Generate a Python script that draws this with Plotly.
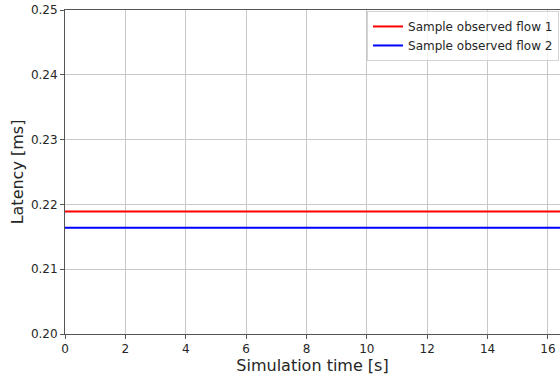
import plotly.graph_objects as go

time_s = [0, 1, 2, 3, 4, 5, 6, 7, 8, 9, 10, 11, 12, 13, 14, 15, 16, 17]
flow1_ms = [0.2189] * len(time_s)
flow2_ms = [0.2164] * len(time_s)
series_names = ["Sample observed flow 1", "Sample observed flow 2"]
x_ticks = [0, 2, 4, 6, 8, 10, 12, 14, 16]
y_ticks = [0.20, 0.21, 0.22, 0.23, 0.24, 0.25]

fig = go.Figure()
fig.add_trace(go.Scatter(x=time_s, y=flow1_ms, mode="lines", name=series_names[0],
                         line=dict(color="#ff0000", width=2)))
fig.add_trace(go.Scatter(x=time_s, y=flow2_ms, mode="lines", name=series_names[1],
                         line=dict(color="#0000ff", width=2)))

font = "DejaVu Sans, sans-serif"
fig.update_layout(
    width=560, height=375,
    margin=dict(l=65, r=0, t=10, b=41),
    paper_bgcolor="white", plot_bgcolor="white",
    font=dict(family=font, size=12, color="#262626"),
    showlegend=True,
    legend=dict(x=0.998, y=0.997, xanchor="right", yanchor="top",
                bgcolor="rgba(255,255,255,0.8)", bordercolor="#d4d4d4", borderwidth=1,
                font=dict(size=12, family=font, color="#262626"),
                tracegroupgap=0, itemwidth=30),
    xaxis=dict(range=[0, 16.4], tickvals=x_ticks, ticktext=[str(v) for v in x_ticks],
               showgrid=True, gridcolor="#c8c8c8", gridwidth=1,
               showline=True, linecolor="#555555", linewidth=1, mirror=True,
               ticks="outside", ticklen=4, tickcolor="#555555", zeroline=False,
               title=dict(text="Simulation time [s]", font=dict(size=16, family=font, color="#262626"), standoff=0)),
    yaxis=dict(range=[0.20, 0.25], tickvals=y_ticks, ticktext=["%.2f" % v for v in y_ticks],
               showgrid=True, gridcolor="#c8c8c8", gridwidth=1,
               showline=True, linecolor="#555555", linewidth=1, mirror=False,
               ticks="outside", ticklen=4, tickcolor="#555555", zeroline=False,
               title=dict(text="Latency [ms]", font=dict(size=16, family=font, color="#262626"), standoff=3)),
)

fig.write_html("out.html", config={"displayModeBar": False},
               post_script="document.body.style.margin='0';document.body.style.overflow='hidden';")
